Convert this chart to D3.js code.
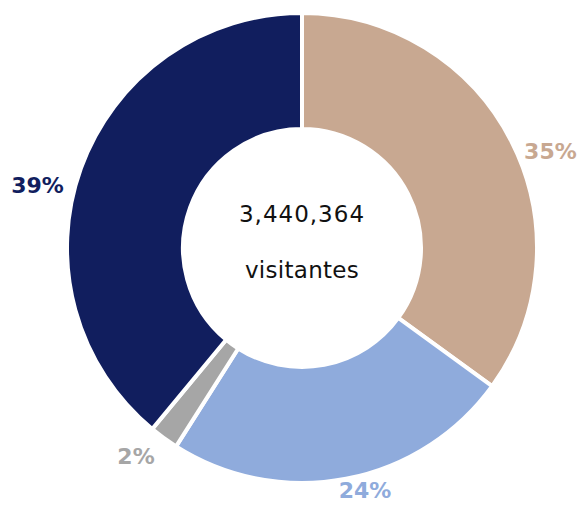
<!DOCTYPE html>
<html>
<head>
<meta charset="utf-8">
<script src="https://cdn.jsdelivr.net/npm/d3@7"></script>
<style>
  body { margin: 0; background: #fff; }
  svg { display: block; }
</style>
</head>
<body>
<div id="chart"></div>
<script>
// slice data, clockwise from 12 o'clock
var categories = ["A", "B", "C", "D"];
var shares = [35, 24, 2, 39];
var sliceColors = ["#C8A891", "#8FABDC", "#A6A6A6", "#111E5E"];
var totalLabel = "3,440,364";
var unitLabel = "visitantes";

var width = 579, height = 505;
var cx = 302, cy = 248;
var outerR = 235, innerR = 119;

// small nudges so labels sit where the original put them
var labelNudge = [[15, 22], [14, -15], [-12, -3], [-18, 26]];

var svg = d3.select("#chart")
  .append("svg")
  .attr("width", width)
  .attr("height", height);

var g = svg.append("g")
  .attr("transform", `translate(${cx}, ${cy})`);

var pie = d3.pie().sort(null).value(d => d.value);
var arc = d3.arc().innerRadius(innerR).outerRadius(outerR);
var labelArc = d3.arc().innerRadius(262).outerRadius(262);

var data = categories.map((c, i) => ({ name: c, value: shares[i], color: sliceColors[i], i: i }));
var arcs = pie(data);

g.selectAll("path.slice")
  .data(arcs)
  .enter()
  .append("path")
  .attr("class", "slice")
  .attr("d", arc)
  .attr("fill", d => d.data.color)
  .attr("stroke", "#fff")
  .attr("stroke-width", 4)
  .attr("stroke-linejoin", "miter");

// percent labels outside
g.selectAll("text.pct")
  .data(arcs)
  .enter()
  .append("text")
  .attr("class", "pct")
  .attr("x", d => labelArc.centroid(d)[0] + labelNudge[d.data.i][0])
  .attr("y", d => labelArc.centroid(d)[1] + labelNudge[d.data.i][1])
  .attr("text-anchor", "middle")
  .attr("dominant-baseline", "central")
  .attr("fill", d => d.data.color)
  .style("font-family", "'DejaVu Sans', sans-serif")
  .style("font-weight", "bold")
  .style("font-style", "normal")
  .style("font-size", "22px")
  .text(d => d.data.value + "%");

// centre text
g.append("text")
  .attr("x", 0)
  .attr("y", -26)
  .attr("text-anchor", "middle")
  .style("font-family", "'DejaVu Sans', sans-serif")
  .style("font-size", "23px")
  .style("letter-spacing", "1px")
  .attr("fill", "#111")
  .text(totalLabel);

g.append("text")
  .attr("x", 0)
  .attr("y", 30)
  .attr("text-anchor", "middle")
  .style("font-family", "'DejaVu Sans', sans-serif")
  .style("font-size", "23px")
  .style("letter-spacing", "0.3px")
  .attr("fill", "#111")
  .text(unitLabel);
</script>
</body>
</html>
